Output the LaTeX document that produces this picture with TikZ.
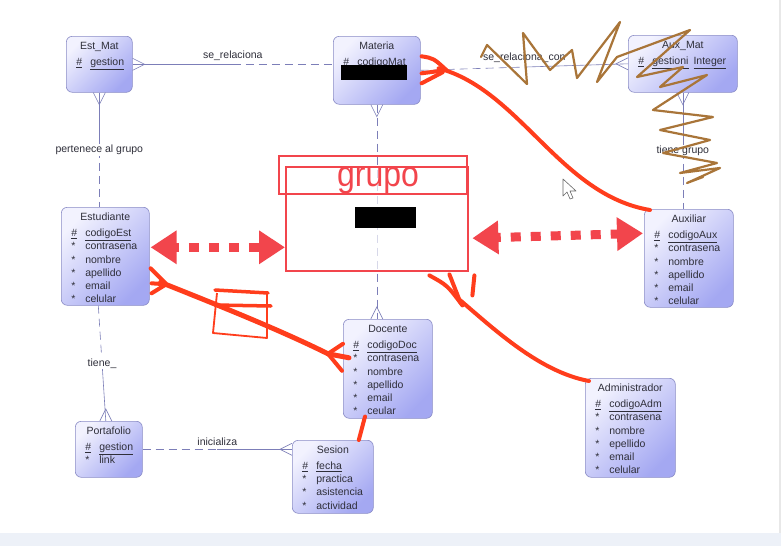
\documentclass[tikz,border=0pt]{standalone}
\usepackage{fontspec}
\setmainfont{Liberation Sans}
\usetikzlibrary{arrows.meta, positioning, calc}

\definecolor{entline}{HTML}{8A8CC6}
\definecolor{entlight}{HTML}{F2F2FE}
\definecolor{entdark}{HTML}{A4A8F2}
\definecolor{relline}{HTML}{7C7EB8}
\definecolor{txt}{HTML}{2F2F3A}
\definecolor{boxred}{HTML}{F2454C}
\definecolor{inkred}{HTML}{FF3D1C}
\definecolor{inkbrown}{HTML}{A97539}
\definecolor{stripbg}{HTML}{EDF1F8}

% entity body: width, height, title, attribute rows
\newcommand{\entbody}[4]{%
  \parbox[t][#2][t]{#1}{\centering\rule{0pt}{13pt}#3\par\vspace{2.7pt}%
  \raggedright\hspace*{10pt}\begin{tabular}[t]{@{}p{14pt}@{}l@{}}#4\end{tabular}}}

\begin{document}
\begin{tikzpicture}[
    x=1pt, y=-1pt,
    font=\fontsize{10.5}{13.3}\selectfont,
    ent/.style     ={draw=entline, line width=0.6pt, rounded corners=6pt,
                     top color=entlight, bottom color=entdark, shading angle=45,
                     inner sep=0pt, anchor=north west, text=txt},
    rel/.style     ={draw=relline, line width=0.6pt},
    reldash/.style ={rel, dash pattern=on 8pt off 5pt},
    rellbl/.style  ={text=txt, inner sep=1pt},
    crow/.pic      ={\draw[rel] (0,-6) -- (12,0) -- (0,6);},
    redbox/.style  ={draw=boxred, line width=2.4pt, anchor=north west, inner sep=0pt},
    redact/.style  ={fill=black, inner sep=0pt, anchor=north west},
    dblarrow/.style={draw=boxred, line width=9pt, dash pattern=on 10pt off 10pt, dash phase=6pt,
                     arrows={Triangle[length=26pt,width=32pt]-Triangle[length=26pt,width=32pt]}},
    scrawl/.style  ={draw=inkred, line width=4pt, line cap=round, line join=round},
    scribble/.style={draw=inkbrown, line width=2.2pt, line cap=round, line join=round},
]

% ---- Page ----
\fill[white] (0,0) rectangle (779,533);
\fill[black!9] (779,0) rectangle (781,533);
\fill[stripbg] (0,533) rectangle (781,546);
\useasboundingbox (0,0) rectangle (781,546);

% ---- Entities ----
\node[ent] (estmat) at (66,36) {\entbody{66pt}{56pt}{Est\_Mat}{%
   \underline{\#} & \underline{gestion}}};
\node[ent] (materia) at (333,36) {\entbody{87pt}{68pt}{Materia}{%
   \underline{\#} & \underline{codigoMat}\\ {*} & nombre}};
\node[ent] (auxmat) at (628,35) {\entbody{109pt}{57pt}{Aux\_Mat}{%
   \underline{\#} & \underline{gestioni}\hspace{5pt}\underline{Integer}}};
\node[ent] (estudiante) at (61,207) {\entbody{88pt}{98pt}{Estudiante}{%
   \underline{\#} & \underline{codigoEst}\\ {*} & contrasena\\ {*} & nombre\\
   {*} & apellido\\ {*} & email\\ {*} & celular}};
\node[ent] (auxiliar) at (644,209) {\entbody{89pt}{98pt}{Auxiliar}{%
   \underline{\#} & \underline{codigoAux}\\ {*} & contrasena\\ {*} & nombre\\
   {*} & apellido\\ {*} & email\\ {*} & celular}};
\node[ent] (docente) at (343,319) {\entbody{89pt}{99pt}{Docente}{%
   \underline{\#} & \underline{codigoDoc}\\ {*} & contrasena\\ {*} & nombre\\
   {*} & apellido\\ {*} & email\\ {*} & ceular}};
\node[ent] (admin) at (585,378) {\entbody{90pt}{99pt}{Administrador}{%
   \underline{\#} & \underline{codigoAdm}\\ {*} & contrasena\\ {*} & nombre\\
   {*} & epellido\\ {*} & email\\ {*} & celular}};
\node[ent] (portafolio) at (75,421) {\entbody{67pt}{56pt}{Portafolio}{%
   \underline{\#} & \underline{gestion}\\ {*} & link}};
\node[ent] (sesion) at (292,440) {\entbody{81pt}{73pt}{Sesion}{%
   \underline{\#} & \underline{fecha}\\ {*} & practica\\ {*} & asistencia\\ {*} & actividad}};

\node[redact, minimum width=66, minimum height=15] (redact1) at (341,65) {};

% ---- Relationships ----
\path (estmat.east) -- coordinate[midway] (m1) (estmat.east -| materia.west);
\draw[rel] (estmat.east) -- (m1);
\draw[reldash] (m1) -- (estmat.east -| materia.west);
\node[rellbl, above=3pt] at (m1) {se\_relaciona};
\path (estmat.east) pic {crow};

\path (materia.east) -- coordinate[midway] (m2) (auxmat.west);
\draw[reldash] (materia.east) -- (m2);
\draw[rel] (m2) -- (auxmat.west);
\node[rellbl, above=3pt] at (m2) {se\_relaciona\_con};
\path (auxmat.west) pic[rotate=180] {crow};

\path (estmat.south) -- coordinate[midway] (m3) (estmat.south |- estudiante.north);
\draw[rel] (estmat.south) -- (m3);
\draw[reldash] (m3) -- (estmat.south |- estudiante.north);
\node[rellbl, fill=white] at (m3) {pertenece al grupo};
\path (estmat.south) pic[rotate=-90] {crow};

\path (auxmat.south) -- coordinate[midway] (m4) (auxmat.south |- auxiliar.north);
\draw[rel] (auxmat.south) -- (m4);
\draw[reldash] (m4) -- (auxmat.south |- auxiliar.north);
\node[rellbl, fill=white] at (m4) {tiene grupo};
\path (auxmat.south) pic[rotate=-90] {crow};

\coordinate (ep1) at ($(estudiante.south)+(-7,0)$);
\coordinate (ep2) at ($(portafolio.north)+(-3,0)$);
\path (ep1) -- coordinate[midway] (m5) (ep2);
\draw[reldash] (ep1) -- (m5);
\draw[rel] (m5) -- (ep2);
\node[rellbl, fill=white] at (m5) {tiene\_};
\path (ep2) pic[rotate=90] {crow};

\path (portafolio.east) -- coordinate[midway] (m6) (portafolio.east -| sesion.west);
\draw[reldash] (portafolio.east) -- (m6);
\draw[rel] (m6) -- (portafolio.east -| sesion.west);
\node[rellbl, above=3pt] at (m6) {inicializa};
\path (portafolio.east -| sesion.west) pic[rotate=180] {crow};

\draw[reldash] (materia.south) -- (materia.south |- docente.north);
\path (materia.south) pic[rotate=-90] {crow};
\path (materia.south |- docente.north) pic[rotate=90] {crow};

% ---- Red group box ----
\node[redbox, fill=white, fill opacity=.7, minimum width=182, minimum height=104] (grupo) at (285,166) {};
\node[redbox, minimum width=188, minimum height=38] (grupohead) at (278,155) {};
\node[text=boxred, font=\fontsize{32}{32}\selectfont, anchor=base] (grupolbl) at (378,186) {\scalebox{1}[1.12]{grupo}};
\node[redact, minimum width=61, minimum height=21] (redact2) at (355,207) {};

% ---- Red arrows ----
\coordinate (lar) at ($(estudiante.east)+(1,-9)$);
\draw[dblarrow] (lar) -- (lar -| grupo.west);
\draw[dblarrow] ($(grupo.east)+(3,19)$) -- ($(auxiliar.west)+(-1,-25)$);

% Materia -> Auxiliar
\draw[scrawl] ($(materia.east)+(1,-14)$) .. controls +(12,2) .. ($(materia.east)+(26,0)$);
\draw[scrawl] ($(materia.east)+(1,3)$) -- ($(materia.east)+(24,0)$);
\draw[scrawl] ($(materia.east)+(1,13)$) -- ($(materia.east)+(22,2)$);
\draw[scrawl] ($(materia.east)+(18,-2)$) .. controls (520,90) and (560,195) .. ($(auxiliar.north west)+(6,1)$);

% Estudiante -> Docente
\draw[scrawl] ($(estudiante.east)+(1,12)$) -- ($(estudiante.east)+(16,27)$);
\draw[scrawl] ($(estudiante.east)+(2,27)$) -- ($(estudiante.east)+(16,28)$);
\draw[scrawl] ($(estudiante.east)+(2,37)$) -- ($(estudiante.east)+(15,29)$);
\draw[scrawl, line width=5pt] ($(estudiante.east)+(11,26)$) .. controls (220,306) and (280,330) .. ($(docente.west)+(-15,-15)$);
\draw[scrawl] ($(docente.west)+(-15,-15)$) -- ($(docente.west)+(0,-25)$);
\draw[scrawl, line width=5pt] ($(docente.west)+(-15,-15)$) -- ($(docente.west)+(6,-11)$);
\draw[scrawl] ($(docente.west)+(-15,-15)$) -- ($(docente.west)+(-1,2)$);

% hand-drawn box
\draw[inkred, line width=1.8pt, line join=round] (217,293) -- (213,333) -- (267,338) -- (267,292);
\draw[scrawl, line width=3.5pt] (215,290) -- (268,293);
\draw[scrawl, line width=3.5pt] (215,305) -- (271,306);

% grupo -> Administrador
\draw[scrawl] ($(grupo.south east)+(-40,3)$) .. controls +(18,10) .. ($(grupo.south east)+(-7,33)$);
\draw[scrawl] ($(grupo.south east)+(-20,2)$) -- ($(grupo.south east)+(-9,30)$);
\draw[scrawl] ($(grupo.south east)+(5,3)$) .. controls +(-1,10) .. ($(grupo.south east)+(3,23)$);
\draw[scrawl] ($(grupo.south east)+(-9,28)$) .. controls (495,330) and (540,372) .. ($(admin.north west)+(4,3)$);

% Docente -> Sesion
\draw[scrawl] ($(docente.south west)+(22,-2)$) .. controls +(-3,12) .. ($(sesion.north)+(26,0)$);

% ---- Brown scribble ----
\draw[scribble] (481,57) -- (487,45) -- (527,84) -- (523,33) -- (550,70) -- (572,50)
   -- (577,78) -- (620,22) -- (597,82) -- (617,57) -- (690,30) -- (637,77) -- (683,67)
   -- (660,87) -- (707,75) -- (653,110) -- (713,117) -- (660,130) -- (710,140)
   -- (663,153) -- (717,163) -- (680,173) -- (720,168) -- (687,183) -- (703,177);

% ---- Cursor ----
\draw[black!60, fill=white, line width=0.6pt, line join=round]
   (563,179) -- (563,196) -- (567,192) -- (570,199) -- (573,198) -- (570,191) -- (576,191) -- cycle;

\end{tikzpicture}
\end{document}
